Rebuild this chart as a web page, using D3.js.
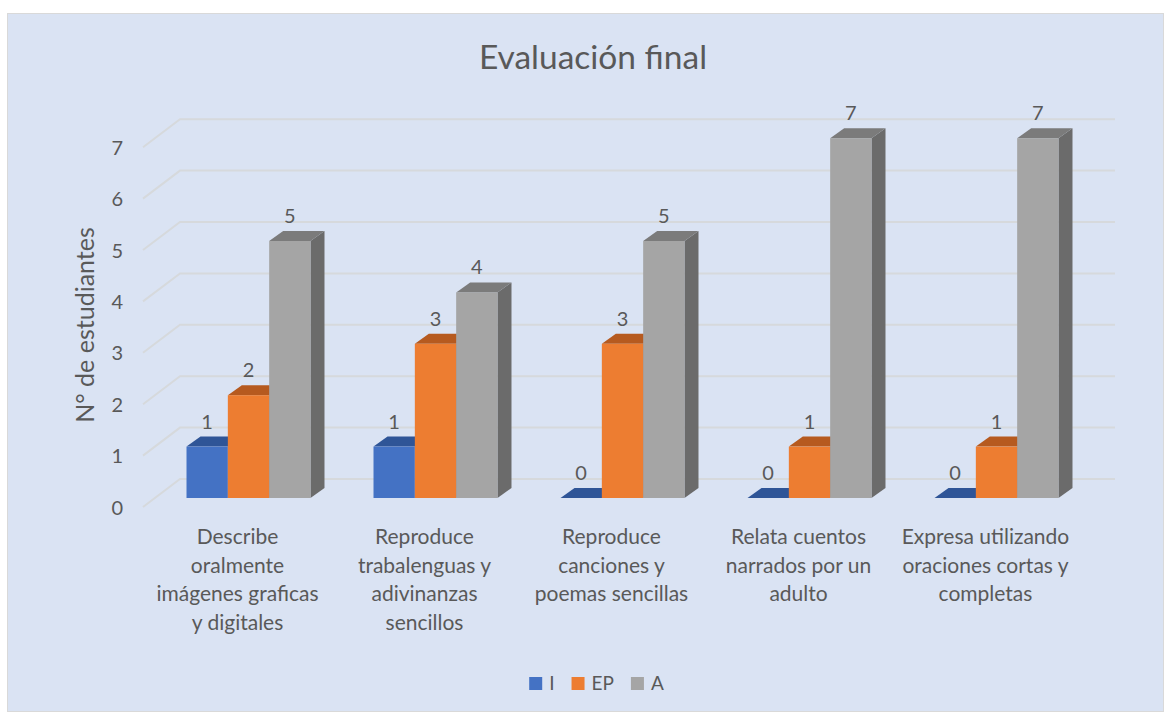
<!DOCTYPE html>
<html>
<head>
<meta charset="utf-8">
<script src="https://cdn.jsdelivr.net/npm/d3@7"></script>
<style>
  body { margin: 0; background: #fff; }
  svg { display: block; font-family: Lato, "Noto Sans", sans-serif; }
  .tick-label, .cat-label, .val-label, .legend-text { fill: #595959; }
</style>
</head>
<body>
<svg width="1168" height="717"></svg>
<script>
// data
var categories = [
  "Describe|oralmente|imágenes graficas|y digitales",
  "Reproduce|trabalenguas y|adivinanzas|sencillos",
  "Reproduce|canciones y|poemas sencillas",
  "Relata cuentos|narrados por un|adulto",
  "Expresa utilizando|oraciones cortas y|completas"
];
var series = ["I", "EP", "A"];
var valuesI  = [1, 1, 0, 0, 0];
var valuesEP = [2, 3, 3, 1, 1];
var valuesA  = [5, 4, 5, 7, 7];
var yTicks = [0, 1, 2, 3, 4, 5, 6, 7];

var colors = {
  I:  { front: "#4472C4", top: "#2F5597", side: "#2F5597" },
  EP: { front: "#ED7D31", top: "#B65A1F", side: "#B65A1F" },
  A:  { front: "#A5A5A5", top: "#7B7B7B", side: "#6B6B6B" }
};

var svg = d3.select("svg");

// panel
svg.append("rect")
  .attr("x", 7.5).attr("y", 13.5)
  .attr("width", 1156).attr("height", 698)
  .attr("fill", "#DAE3F3")
  .attr("stroke", "#D9D9D9");

var depthX = 14, depthY = 10;      // bar depth
var wallDy = 19;                  // back wall behind bar fronts
var floorDx = 37, floorDy = 28;   // front edge of floor

var y = d3.scaleLinear().domain([0, 7]).range([498, 138.2]);
var x0 = d3.scaleBand().domain(categories)
  .range([155, 1090])
  .paddingInner(0.337).paddingOuter(0.1685);
var x1 = d3.scaleBand().domain(series).range([0, x0.bandwidth()]);

// gridlines
var grid = svg.append("g");
yTicks.forEach(function(t) {
  var yb = y(t) - wallDy;
  grid.append("path")
    .attr("d", "M" + 143 + "," + (yb + floorDy) + "L" + (143 + floorDx) + "," + yb + "L1115," + yb)
    .attr("fill", "none")
    .attr("stroke", "#D6D9DC")
    .attr("stroke-width", 2);
  grid.append("text")
    .attr("class", "tick-label")
    .attr("x", 123)
    .attr("y", yb + floorDy + 7.5)
    .attr("text-anchor", "end")
    .attr("font-size", 20)
    .text(t);
});

// bars
var rows = [];
categories.forEach(function(c, i) {
  rows.push({ cat: c, key: "I", v: valuesI[i] });
  rows.push({ cat: c, key: "EP", v: valuesEP[i] });
  rows.push({ cat: c, key: "A", v: valuesA[i] });
});

var bars = svg.append("g").selectAll("g")
  .data(rows)
  .enter()
  .append("g");

bars.each(function(d) {
  var g = d3.select(this);
  var xl = x0(d.cat) + x1(d.key);
  var xr = xl + x1.bandwidth();
  var yt = y(d.v), yb = y(0);
  var c = colors[d.key];
  // side
  g.append("path")
    .attr("d", "M" + xr + "," + yb + "L" + (xr + depthX) + "," + (yb - depthY) +
      "L" + (xr + depthX) + "," + (yt - depthY) + "L" + xr + "," + yt + "Z")
    .attr("fill", c.side);
  // top
  g.append("path")
    .attr("d", "M" + xl + "," + yt + "L" + (xl + depthX) + "," + (yt - depthY) +
      "L" + (xr + depthX) + "," + (yt - depthY) + "L" + xr + "," + yt + "Z")
    .attr("fill", c.top);
  // front
  if (d.v > 0) {
    g.append("rect")
      .attr("x", xl).attr("y", yt)
      .attr("width", x1.bandwidth()).attr("height", yb - yt)
      .attr("fill", c.front);
  }
  g.append("text")
    .attr("class", "val-label")
    .attr("x", (xl + xr) / 2)
    .attr("y", yt - 18)
    .attr("text-anchor", "middle")
    .attr("font-size", 20)
    .text(d.v);
});

// category labels
categories.forEach(function(c) {
  var lines = c.split("|");
  var t = svg.append("text")
    .attr("class", "cat-label")
    .attr("text-anchor", "middle")
    .attr("font-size", 21);
  lines.forEach(function(l, k) {
    t.append("tspan")
      .attr("x", x0(c) + x0.bandwidth() / 2 - 11)
      .attr("y", 544 + k * 28.5)
      .text(l);
  });
});

// axis title
svg.append("text")
  .attr("class", "tick-label")
  .attr("transform", "translate(94,325) rotate(-90)")
  .attr("text-anchor", "middle")
  .attr("font-size", 25)
  .text("N° de estudiantes");

// chart title
svg.append("text")
  .attr("x", 593)
  .attr("y", 69)
  .attr("text-anchor", "middle")
  .attr("font-size", 33.5)
  .attr("fill", "#595959")
  .text("Evaluación final");

// legend
var legend = svg.append("g");
var lx = 0;
series.forEach(function(s) {
  var item = legend.append("g").attr("transform", "translate(" + lx + ",0)");
  item.append("rect")
    .attr("width", 13).attr("height", 13)
    .attr("y", -13)
    .attr("fill", colors[s].front);
  var txt = item.append("text")
    .attr("class", "legend-text")
    .attr("x", 20)
    .attr("font-size", 19)
    .text(s);
  lx += 20 + txt.node().getComputedTextLength() + 17;
});
legend.attr("transform", "translate(" + (596.5 - (lx - 17) / 2) + ",690)");
</script>
</body>
</html>
